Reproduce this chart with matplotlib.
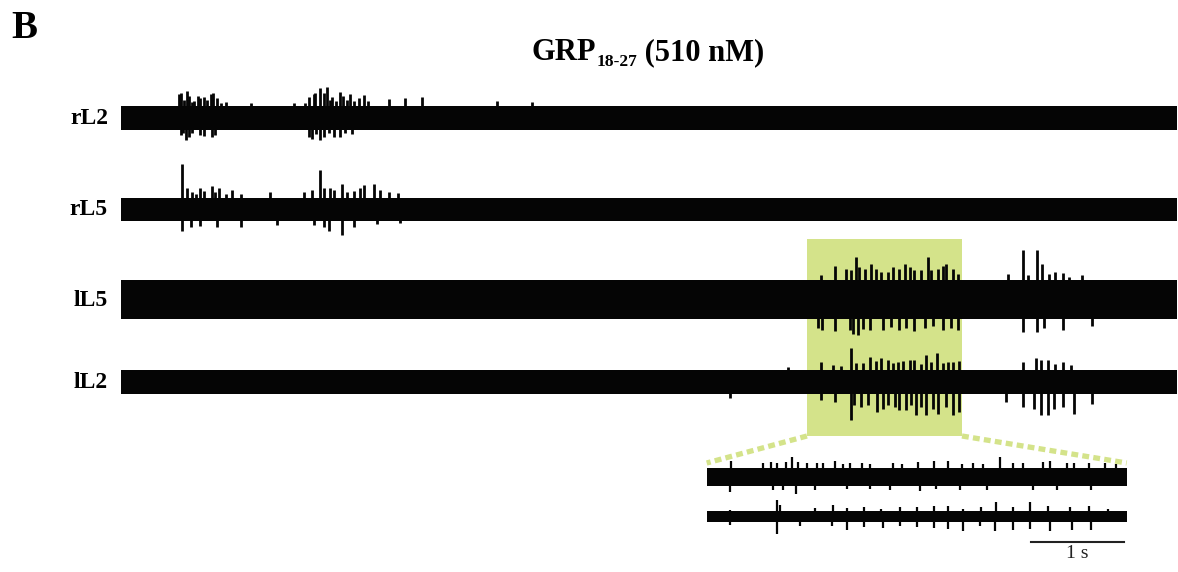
import matplotlib
matplotlib.use('Agg')
import matplotlib.pyplot as plt
import numpy as np
from matplotlib.patches import Rectangle, ConnectionPatch

plt.rcParams['font.family'] = ['Liberation Serif', 'DejaVu Serif']

# Canales del registro (tiempo en s, amplitud en unidades arbitrarias)
channels = ['rL2', 'rL5', 'lL5', 'lL2']
duration = 31.0
inset_duration = 4.5

# Ruido de fondo: semiamplitud (arriba, abajo) de cada canal
rl2_noise = (12, 12)
rl5_noise = (11.5, 11.5)
ll5_noise = (19.5, 19.5)
ll2_noise = (12, 11.5)

# Espigas: (t, amplitud)
rl2_up = [(1.71, 24), (1.78, 25), (1.86, 18), (1.95, 27), (2.00, 22), (2.08, 16), (2.15, 17),
          (2.26, 22), (2.34, 20), (2.44, 21), (2.54, 18), (2.64, 24), (2.72, 25), (2.83, 20),
          (2.95, 15), (3.08, 16), (3.81, 15), (5.08, 15), (5.40, 15), (5.52, 21), (5.66, 24),
          (5.71, 25), (5.84, 30), (5.96, 25), (6.06, 31), (6.13, 18), (6.20, 21), (6.33, 17),
          (6.45, 26), (6.53, 22), (6.64, 18), (6.74, 24), (6.86, 17), (6.98, 20), (7.13, 23),
          (7.27, 17), (7.86, 19), (8.35, 20), (8.84, 21), (11.04, 17), (12.06, 16)]
rl2_down = [(1.76, 17), (1.84, 15), (1.93, 22), (2.00, 19), (2.10, 15), (2.32, 17), (2.44, 18),
            (2.69, 19), (2.78, 17), (5.52, 19), (5.62, 21), (5.72, 16), (5.84, 22), (5.96, 19),
            (6.10, 15), (6.25, 19), (6.45, 19), (6.59, 15), (6.79, 16)]

rl5_up = [(1.81, 45), (1.95, 21), (2.10, 17), (2.22, 15), (2.32, 21), (2.44, 18), (2.67, 23),
          (2.76, 17), (2.88, 21), (3.08, 15), (3.27, 19), (3.52, 15), (4.39, 17), (5.37, 17),
          (5.62, 19), (5.86, 39), (5.96, 21), (6.15, 21), (6.25, 19), (6.50, 25), (6.64, 17),
          (6.84, 18), (7.03, 21), (7.15, 24), (7.42, 25), (7.60, 19), (7.86, 17), (8.15, 16)]
rl5_down = [(1.81, 22), (2.05, 18), (2.34, 17), (2.83, 18), (3.52, 18), (4.59, 16), (5.66, 16),
            (5.96, 18), (6.10, 22), (6.50, 26), (6.84, 18), (7.52, 15), (8.20, 14)]

ll5_up = [(20.56, 24.5), (20.95, 33.5), (21.29, 31), (21.44, 29.5), (21.59, 43), (21.66, 33),
          (21.83, 31), (22.02, 35.5), (22.17, 31), (22.32, 28), (22.51, 28), (22.66, 33),
          (22.85, 31), (23.03, 35.5), (23.15, 33), (23.29, 29.5), (23.49, 30), (23.68, 43),
          (23.78, 30), (23.98, 31), (24.12, 33.5), (24.22, 35.5), (24.42, 31), (24.56, 26),
          (26.03, 26), (26.49, 49.5), (26.64, 24.5), (26.88, 50), (27.03, 35.5), (27.23, 26),
          (27.42, 28), (27.64, 27), (27.83, 23), (28.22, 24.5)]
ll5_down = [(20.46, 28), (20.59, 30), (20.95, 31), (21.39, 30.5), (21.49, 34.5), (21.63, 35.5),
            (21.78, 29), (21.98, 30.5), (22.36, 30), (22.61, 27), (22.85, 30), (23.05, 28),
            (23.29, 31), (23.59, 28), (23.83, 26.5), (24.12, 30), (24.37, 28), (24.56, 30.5),
            (26.49, 32), (26.88, 32), (27.10, 28), (27.64, 30.5), (28.52, 26.5)]

ll2_up = [(19.57, 15), (20.56, 20), (20.90, 17), (21.15, 16), (21.44, 34), (21.59, 19),
          (21.78, 19), (21.98, 25), (22.17, 21), (22.32, 24), (22.51, 22), (22.66, 19),
          (22.80, 20), (22.95, 21), (23.15, 22), (23.29, 22), (23.49, 18), (23.63, 27),
          (23.78, 20), (23.95, 29), (24.12, 19), (24.27, 20), (24.44, 20), (24.59, 21),
          (26.47, 20), (26.86, 24), (27.00, 22), (27.20, 22), (27.42, 18), (27.64, 20), (27.88, 17)]
ll2_down = [(17.87, 16), (20.56, 17.5), (20.95, 20), (21.44, 38), (21.53, 23), (21.73, 25),
            (21.92, 23), (22.19, 30), (22.36, 26.5), (22.51, 23), (22.71, 25), (22.85, 28),
            (23.05, 28), (23.20, 23), (23.34, 33), (23.49, 25), (23.63, 33), (23.83, 26.5),
            (23.98, 32), (24.22, 25), (24.42, 33), (24.59, 30), (25.98, 20), (26.49, 25),
            (26.81, 26.5), (27.00, 33), (27.20, 33), (27.39, 26.5), (27.64, 25), (27.98, 31.5),
            (28.52, 21.5)]

# Ampliacion (dos canales, 4.5 s)
zoom1_noise = (9, 8.5)
zoom1_up = [(0.26, 16), (0.60, 13.7), (0.69, 15.3), (0.75, 14.3), (0.85, 15.3), (0.91, 19.7),
            (0.98, 15.3), (1.07, 13.7), (1.18, 14.3), (1.25, 13.7), (1.37, 16.3), (1.46, 13),
            (1.53, 13.7), (1.66, 13.7), (1.75, 13), (2.00, 13.7), (2.09, 13), (2.26, 15.3),
            (2.44, 16), (2.59, 16.3), (2.74, 13), (2.85, 13.7), (2.96, 13), (3.14, 20.3),
            (3.28, 13.7), (3.39, 13.7), (3.60, 15.3), (3.68, 16.3), (3.86, 13.7), (3.94, 14.3),
            (4.10, 13.7), (4.27, 13.7), (4.39, 13)]
zoom1_down = [(0.25, 14.7), (0.71, 13), (0.82, 13), (0.96, 17), (1.16, 13), (1.50, 12.3),
              (1.75, 12.3), (1.96, 13), (2.28, 13.7), (2.46, 12.3), (2.71, 13), (3.00, 13),
              (3.50, 13), (3.75, 13), (4.12, 13)]
zoom2_noise = (5.5, 5)
zoom2_up = [(0.25, 7), (0.75, 17), (0.78, 12), (1.16, 8.7), (1.35, 12), (1.50, 8.7), (1.69, 9.7),
            (1.87, 7.7), (2.07, 9.7), (2.25, 9.7), (2.43, 10.3), (2.59, 11), (2.75, 7.7),
            (2.94, 9.7), (3.10, 14.3), (3.28, 9.7), (3.46, 14.3), (3.66, 10.3), (3.89, 9.7),
            (4.10, 11), (4.30, 7.7)]
zoom2_down = [(0.25, 8), (0.75, 17), (1.00, 9.7), (1.34, 9.7), (1.50, 13), (1.69, 10.3),
              (1.89, 11.3), (2.07, 9.7), (2.25, 10.3), (2.43, 11.3), (2.59, 12.3), (2.75, 14.7),
              (2.93, 9.7), (3.09, 14.7), (3.28, 13), (3.46, 12.3), (3.68, 14.7), (3.91, 13),
              (4.12, 13)]

# ventana ampliada (s) y barra de escala
window = (20.14, 24.69)
scale_bar = (3.47, 4.47)

W, H = 1178, 572
trace_color = '#050505'
hl_color = '#d4e38a'


def draw_trace(ax, base, noise, up, down, t_end, lw=2.0):
    ax.fill_between([0, t_end], base - noise[0], base + noise[1],
                    color=trace_color, lw=0, zorder=3)
    tu, au = np.array(up).T
    ax.vlines(tu, base, base - au, color=trace_color, lw=lw, zorder=3)
    td, ad = np.array(down).T
    ax.vlines(td, base, base + ad, color=trace_color, lw=lw, zorder=3)


fig = plt.figure(figsize=(W / 100, H / 100), dpi=100)

# ejes principales: unidades verticales en px
ax = fig.add_axes([120.7 / W, 1 - 445 / H, (1177 - 120.7) / W, 385 / H])
ax.set_xlim(0, duration)
ax.set_ylim(445, 60)
ax.axis('off')

bases = {'rL2': 118, 'rL5': 209, 'lL5': 299.5, 'lL2': 382}
traces = {'rL2': (rl2_noise, rl2_up, rl2_down), 'rL5': (rl5_noise, rl5_up, rl5_down),
          'lL5': (ll5_noise, ll5_up, ll5_down), 'lL2': (ll2_noise, ll2_up, ll2_down)}
for name in channels:
    noise, up, down = traces[name]
    draw_trace(ax, bases[name], noise, up, down, duration)
    fig.text(108 / W, 1 - (bases[name] + 1) / H, name, ha='right', va='center',
             fontsize=17, fontweight='bold')

ax.add_patch(Rectangle((window[0], 239), window[1] - window[0], 436 - 239,
                       facecolor=hl_color, edgecolor='none', zorder=1))

# ampliacion
axz = fig.add_axes([706.7 / W, 0, 420 / W, 122 / H])
axz.set_xlim(0, inset_duration)
axz.set_ylim(572, 450)
axz.axis('off')
draw_trace(axz, 477, zoom1_noise, zoom1_up, zoom1_down, inset_duration, lw=1.6)
draw_trace(axz, 516.5, zoom2_noise, zoom2_up, zoom2_down, inset_duration, lw=1.6)

axz.plot(scale_bar, [541.5, 541.5], color='#222222', lw=1.5, clip_on=False)
axz.text(np.mean(scale_bar), 545, '1 s', ha='center', va='top', fontsize=14, color='#222222')

for xa, xb in [(window[0], 0), (window[1], inset_duration)]:
    con = ConnectionPatch(xyA=(xa, 436), coordsA=ax.transData,
                          xyB=(xb, 463), coordsB=axz.transData,
                          color=hl_color, lw=3.8, linestyle=(0, (1.3, 0.8)),
                          capstyle='butt')
    fig.add_artist(con)

# letra del panel y titulo
fig.text(11 / W, 1 - 38 / H, 'B', fontsize=28, fontweight='bold', va='baseline')

fig.canvas.draw()
r = fig.canvas.get_renderer()
y_base = 1 - 60 / H
parts = [('GRP', 22, 0), ('18-27', 12.5, 6), (' (510 nM)', 22, 0)]
texts = []
x = 0
for s, size, dy in parts:
    t = fig.text(x, y_base - dy / H, s, fontsize=size, fontweight='bold', va='baseline')
    x += t.get_window_extent(r).width / W
    texts.append(t)
x0 = 648 / W - x / 2
for t in texts:
    px, py = t.get_position()
    t.set_position((px + x0, py))

fig.savefig('out.png', dpi=100, facecolor='white')
